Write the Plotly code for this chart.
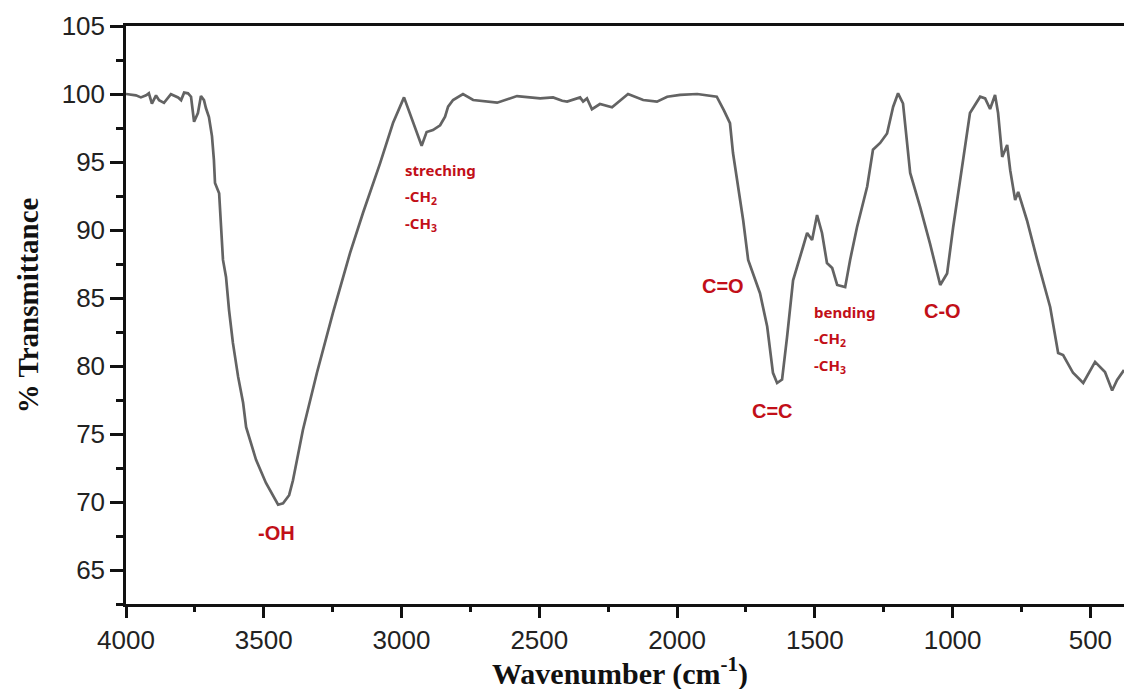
import plotly.graph_objects as go

wavenumber = [4000, 3964, 3946, 3927, 3917, 3906, 3891, 3880, 3862, 3837, 3811, 3800, 3789, 3775,
              3764, 3753, 3739, 3728, 3717, 3710, 3699, 3688, 3681, 3677, 3662, 3655, 3648, 3637,
              3626, 3612, 3593, 3575, 3564, 3528, 3492, 3448, 3430, 3408, 3394, 3358, 3307, 3249,
              3187, 3140, 3078, 3031, 2991, 2927, 2909, 2886, 2860, 2842, 2831, 2813, 2777, 2740,
              2653, 2581, 2497, 2450, 2417, 2399, 2377, 2352, 2341, 2327, 2309, 2280, 2236, 2178,
              2123, 2073, 2036, 1989, 1927, 1880, 1856, 1830, 1808, 1797, 1779, 1760, 1742, 1724,
              1699, 1673, 1652, 1637, 1619, 1601, 1579, 1543, 1528, 1510, 1492, 1474, 1456, 1437,
              1419, 1390, 1372, 1347, 1310, 1289, 1263, 1238, 1216, 1198, 1180, 1154, 1118, 1082,
              1045, 1020, 998, 962, 937, 900, 882, 864, 846, 835, 820, 802, 791, 773, 762, 730,
              693, 646, 617, 599, 563, 526, 483, 447, 421, 403, 378]
transmittance = [100.0, 99.9, 99.75, 99.9, 100.05, 99.3, 99.9, 99.55, 99.35, 99.98, 99.75, 99.55, 100.1, 100.05,
                 99.8, 97.96, 98.6, 99.85, 99.55, 98.97, 98.3, 96.9, 95.15, 93.45, 92.7, 90.2, 87.8, 86.55,
                 84.1, 81.7, 79.2, 77.3, 75.5, 73.1, 71.4, 69.8, 69.9, 70.5, 71.6, 75.3, 79.5, 83.9,
                 88.3, 91.25, 94.9, 97.87, 99.75, 96.2, 97.2, 97.35, 97.7, 98.33, 99.07, 99.56, 100.0, 99.56,
                 99.36, 99.85, 99.68, 99.75, 99.5, 99.44, 99.6, 99.75, 99.44, 99.68, 98.88, 99.26, 99.02, 100.0,
                 99.56, 99.44, 99.8, 99.93, 100.0, 99.85, 99.8, 98.8, 97.85, 95.66, 93.2, 90.7, 87.8, 86.8,
                 85.35, 82.9, 79.5, 78.75, 79.0, 82.1, 86.3, 88.75, 89.78, 89.27, 91.1, 89.78, 87.57, 87.2,
                 85.96, 85.8, 87.8, 90.2, 93.2, 95.9, 96.4, 97.1, 99.05, 100.05, 99.3, 94.2, 91.7, 89.0,
                 85.96, 86.8, 90.2, 95.15, 98.6, 99.8, 99.68, 98.9, 99.93, 98.6, 95.37, 96.25, 94.4, 92.2, 92.8, 90.7,
                 87.8, 84.34, 80.96, 80.8, 79.5, 78.75, 80.3, 79.56, 78.2, 78.97, 79.7]

label_texts = ["streching", "-CH<sub>2</sub>", "-CH<sub>3</sub>", "C=O", "C=C", "-OH",
               "bending", "-CH<sub>2</sub>", "-CH<sub>3</sub>", "C-O"]
label_x = [2995, 2995, 2995, 1833, 1652, 3455, 1510, 1510, 1510, 1038]
label_y = [94.4, 92.45, 90.45, 85.9, 76.7, 67.7, 84.0, 81.95, 80.0, 84.05]

x_ticks = [4000, 3500, 3000, 2500, 2000, 1500, 1000, 500]
y_ticks = [65, 70, 75, 80, 85, 90, 95, 100, 105]

RED = "#c20f18"
fig = go.Figure()
fig.add_trace(go.Scatter(x=wavenumber, y=transmittance, mode="lines",
                         line=dict(color="#636363", width=2.7), showlegend=False,
                         hoverinfo="skip"))

for t, x, y in zip(label_texts, label_x, label_y):
    calibri_like = t.startswith("-CH") or t in ("streching", "bending")
    if calibri_like:
        fig.add_annotation(x=x, y=y, text=t, showarrow=False,
                           xanchor="left", yanchor="middle",
                           font=dict(family="Noto Sans", size=15, color=RED, weight="bold"))
    else:
        fig.add_annotation(x=x, y=y, text=t, showarrow=False,
                           xanchor="center", yanchor="middle",
                           font=dict(family="Liberation Sans", size=20, color=RED, weight="bold"))

# axis titles
fig.add_annotation(xref="paper", yref="paper", x=0, y=0.517, xshift=-98,
                   text="% Transmittance", textangle=-90, showarrow=False,
                   xanchor="center", yanchor="middle",
                   font=dict(family="Liberation Serif", size=29, color="#111", weight="bold"))
fig.add_annotation(xref="paper", yref="paper", x=0.495, y=0, yshift=-67,
                   text="Wavenumber (cm<sup>-1</sup>)", showarrow=False,
                   xanchor="center", yanchor="middle",
                   font=dict(family="Liberation Serif", size=30, color="#111", weight="bold"))

fig.update_layout(
    width=1124, height=689,
    font=dict(family="Liberation Sans", size=20, color="#222"),
    margin=dict(l=126, r=0, t=26, b=85),
    paper_bgcolor="white", plot_bgcolor="white",
    xaxis=dict(range=[4000, 378], tickvals=x_ticks, ticktext=[str(v) for v in x_ticks],
               showgrid=False, zeroline=False, showline=True, linecolor="#111", linewidth=2.5,
               mirror=True, ticks="outside", ticklen=11, tickwidth=2.5, tickcolor="#111",
               minor=dict(dtick=250, ticks="outside", ticklen=5, tickwidth=2.5, tickcolor="#111"),
               tickfont=dict(family="Liberation Sans", size=26, color="#222")),
    yaxis=dict(range=[62.5, 105], tickvals=y_ticks, ticktext=[str(v) for v in y_ticks],
               showgrid=False, zeroline=False, showline=True, linecolor="#111", linewidth=2.5,
               ticks="outside", ticklen=13, tickwidth=2.5, tickcolor="#111",
               minor=dict(dtick=2.5, ticks="outside", ticklen=7, tickwidth=2.5, tickcolor="#111"),
               tickfont=dict(family="Liberation Sans", size=26, color="#222")),
)

fig.write_html("out.html")
